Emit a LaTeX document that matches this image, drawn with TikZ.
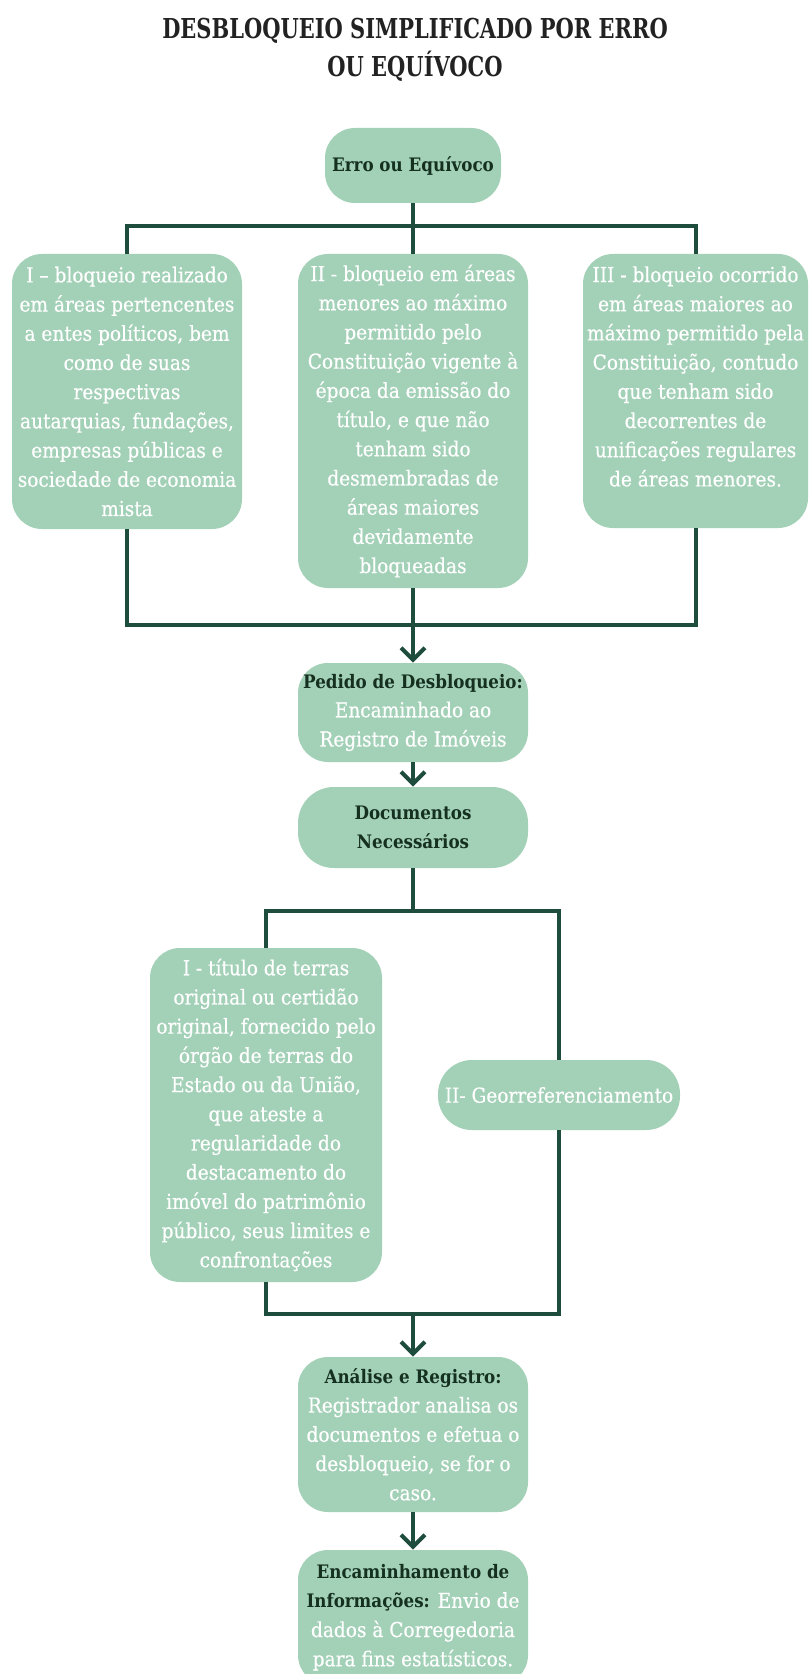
\documentclass[tikz,border=0pt]{standalone}
\usepackage{fontspec}
\setmainfont{DejaVu Serif Condensed}
\newfontfamily\bodyfont[FakeBold=0.4]{DejaVu Serif Condensed}
\newfontfamily\titlefont[FakeStretch=0.85]{DejaVu Serif Condensed}
\usetikzlibrary{arrows.meta}

\definecolor{boxgreen}{HTML}{A3D1B7}
\definecolor{linegreen}{HTML}{1F4D3D}
\definecolor{darktext}{HTML}{15301F}
\definecolor{titlegray}{HTML}{222222}

\newcommand{\hd}[1]{{\color{darktext}\rmfamily\bfseries\fontsize{9.3}{14.6}\selectfont #1}}

\tikzset{
  stepbox/.style={fill=boxgreen, rounded corners=15pt, align=center, text=white,
    font=\bodyfont\fontsize{10.3}{14.6}\selectfont, inner sep=0pt, minimum width=115pt},
  link/.style={draw=linegreen, line width=2pt},
  arrowlink/.style={link, -{Straight Barb[length=6pt,width=12pt]}},
}

\begin{document}
\begin{tikzpicture}[x=0.5pt, y=-0.5pt]

\fill[white] (0,0) rectangle (810,1674);
\useasboundingbox (0,0) rectangle (810,1674);

\node[align=center, text=titlegray, font=\titlefont\bfseries\fontsize{13.7}{19}\selectfont] (title) at (415,50)
  {DESBLOQUEIO SIMPLIFICADO POR ERRO\\OU EQUÍVOCO};

% primeira etapa
\node[stepbox, minimum width=88pt, minimum height=37.5pt] (erro) at (413,165.5) {\hd{Erro ou Equívoco}};

\node[stepbox, minimum height=137.5pt] (boxI) at (127,391.5)
  {I – bloqueio realizado\\em áreas pertencentes\\a entes políticos, bem\\como de suas\\respectivas\\autarquias, fundações,\\empresas públicas e\\sociedade de economia\\mista};
\node[stepbox, minimum height=167pt] (boxII) at (413,421)
  {II - bloqueio em áreas\\menores ao máximo\\permitido pelo\\Constituição vigente à\\época da emissão do\\título, e que não\\tenham sido\\desmembradas de\\áreas maiores\\devidamente\\bloqueadas};
\node[stepbox, minimum width=112.5pt, minimum height=137pt] (boxIII) at (695.5,391)
  {III - bloqueio ocorrido\\em áreas maiores ao\\máximo permitido pela\\Constituição, contudo\\que tenham sido\\decorrentes de\\unificações regulares\\de áreas menores.\\\mbox{}};

\node[stepbox, minimum height=49.5pt] (pedido) at (413,712.5)
  {\hd{Pedido de Desbloqueio:}\\Encaminhado ao\\Registro de Imóveis};
\node[stepbox, rounded corners=18pt, minimum height=40.5pt] (docs) at (413,827.5)
  {\hd{Documentos}\\\hd{Necessários}};

% documentos
\node[stepbox, minimum width=116pt, minimum height=167pt] (titulo) at (266,1115)
  {I - título de terras\\original ou certidão\\original, fornecido pelo\\órgão de terras do\\Estado ou da União,\\que ateste a\\regularidade do\\destacamento do\\imóvel do patrimônio\\público, seus limites e\\confrontações};
\node[stepbox, rounded corners=17pt, minimum width=121pt, minimum height=35pt] (geo) at (559,1095)
  {II- Georreferenciamento};

\node[stepbox, minimum height=77.5pt] (analise) at (413,1434.5)
  {\hd{Análise e Registro:}\\Registrador analisa os\\documentos e efetua o\\desbloqueio, se for o\\caso.};
\node[stepbox, minimum height=67.5pt] (encam) at (413,1617.5)
  {\hd{Encaminhamento de}\\\hd{Informações:} Envio de\\dados à Corregedoria\\para fins estatísticos.};

\coordinate (split1) at (413,226);
\coordinate (join1) at (413,625);
\coordinate (split2) at (413,911);
\coordinate (join2) at (413,1314);

\draw[link] (erro.south) -- (split1);
\draw[link] (boxI.north) -- (boxI.north |- split1) -- (boxIII.north |- split1) -- (boxIII.north);
\draw[link] (split1) -- (boxII.north);
\draw[link] (boxI.south) -- (boxI.south |- join1) -- (boxIII.south |- join1) -- (boxIII.south);
\draw[arrowlink] (boxII.south) -- (pedido.north);
\draw[arrowlink] (pedido.south) -- (docs.north);

\draw[link] (docs.south) -- (split2);
\draw[link] (titulo.north) -- (titulo.north |- split2) -- (geo.north |- split2) -- (geo.north);
\draw[link] (titulo.south) -- (titulo.south |- join2) -- (geo.south |- join2) -- (geo.south);
\draw[arrowlink] (join2) -- (analise.north);
\draw[arrowlink] (analise.south) -- (encam.north);

\end{tikzpicture}
\end{document}
